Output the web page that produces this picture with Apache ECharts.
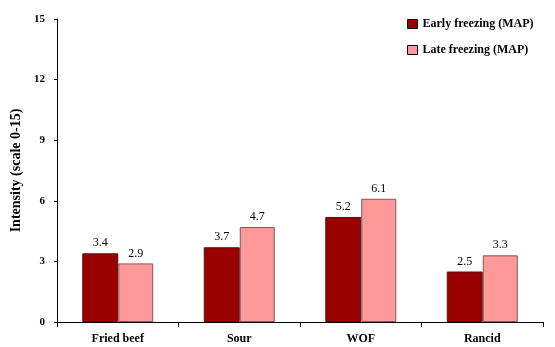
<!DOCTYPE html>
<html>
<head>
<meta charset="utf-8">
<script src="https://cdn.jsdelivr.net/npm/echarts@6/dist/echarts.min.js"></script>
<style>
  html, body { margin: 0; padding: 0; background: #fff; }
  #chart { width: 555px; height: 347px; }
</style>
</head>
<body>
<div id="chart"></div>
<script>
// 資料
const categories = ["Fried beef", "Sour", "WOF", "Rancid"];
const earlyFreezing = [3.4, 3.7, 5.2, 2.5];
const lateFreezing = [2.9, 4.7, 6.1, 3.3];
const yTicks = [0, 3, 6, 9, 12, 15];

const serif = "Liberation Serif";

const chart = echarts.init(document.getElementById("chart"));

const option = {
  animation: false,
  grid: { left: 57, right: 12, top: 19, bottom: 25 },
  legend: {
    orient: "vertical",
    left: 402,
    top: 13,
    icon: "rect",
    itemWidth: 10,
    itemHeight: 9,
    itemGap: 14,
    textStyle: { fontFamily: serif, fontWeight: "bold", fontSize: 12, color: "#000" },
    data: [
      { name: "Early freezing (MAP)", itemStyle: { borderColor: "#000", borderWidth: 1 } },
      { name: "Late freezing (MAP)", itemStyle: { borderColor: "#000", borderWidth: 1 } }
    ]
  },
  xAxis: {
    type: "category",
    data: categories,
    axisLine: { lineStyle: { color: "#000", width: 1 } },
    axisTick: { show: true, length: 5, lineStyle: { color: "#000" } },
    axisLabel: { fontFamily: serif, fontWeight: "bold", fontSize: 12, color: "#000", margin: 11 }
  },
  yAxis: {
    type: "value",
    min: yTicks[0],
    max: yTicks[yTicks.length - 1],
    interval: 3,
    name: "Intensity (scale 0-15)",
    nameLocation: "middle",
    nameGap: 34,
    nameTextStyle: { fontFamily: serif, fontWeight: "bold", fontSize: 14, color: "#000" },
    axisLine: { show: true, lineStyle: { color: "#000", width: 1 } },
    axisTick: { show: true, length: 3, lineStyle: { color: "#000" } },
    splitLine: { show: false },
    axisLabel: { fontFamily: serif, fontWeight: "bold", fontSize: 11, color: "#000", margin: 12 }
  },
  series: [
    {
      name: "Early freezing (MAP)",
      type: "bar",
      data: earlyFreezing,
      barWidth: 36,
      barGap: "0%",
      itemStyle: { color: "#990000", borderColor: "#5a1010", borderWidth: 1 },
      label: { show: true, position: "top", distance: 4, fontFamily: serif, fontSize: 12, color: "#000" }
    },
    {
      name: "Late freezing (MAP)",
      type: "bar",
      data: lateFreezing,
      barWidth: 35,
      itemStyle: { color: "#FF9999", borderColor: "#7a5a5a", borderWidth: 1 },
      label: { show: true, position: "top", distance: 4, fontFamily: serif, fontSize: 12, color: "#000" }
    }
  ]
};

chart.setOption(option);
</script>
</body>
</html>
